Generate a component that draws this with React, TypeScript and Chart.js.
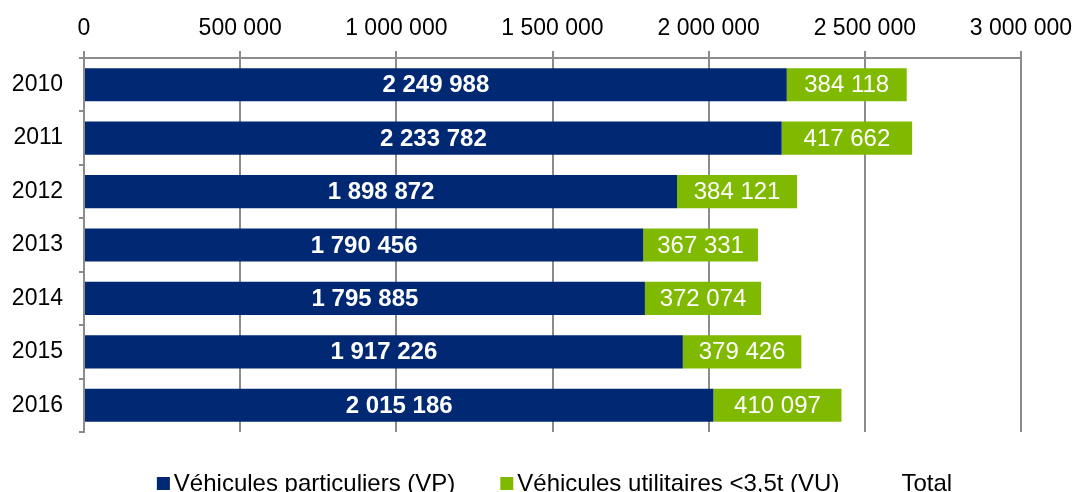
import React, { useEffect, useRef } from "react";
import { Chart, registerables } from "chart.js";

Chart.register(...registerables);

const years = ["2010", "2011", "2012", "2013", "2014", "2015", "2016"];
const vp = [2249988, 2233782, 1898872, 1790456, 1795885, 1917226, 2015186];
const vu = [384118, 417662, 384121, 367331, 372074, 379426, 410097];
const total: (number | null)[] = [];
const seriesLabels = ["Véhicules particuliers (VP)", "Véhicules utilitaires <3,5t (VU)", "Total"];
const seriesColors = ["#002873", "#80BA00", "rgba(0,0,0,0)"];
const xMin = 0;
const xMax = 3000000;
const xStep = 500000;

const FONT = '"Liberation Sans", Arial, sans-serif';

function fmt(v: number): string {
  return Math.round(v).toString().replace(/\B(?=(\d{3})+(?!\d))/g, " ");
}

const dataLabelPlugin = {
  id: "dataLabels",
  afterDatasetsDraw(chart: any) {
    const ctx = chart.ctx;
    ctx.save();
    ctx.fillStyle = "#ffffff";
    ctx.textAlign = "center";
    ctx.textBaseline = "middle";
    [0, 1].forEach((di) => {
      const meta = chart.getDatasetMeta(di);
      const ds = chart.data.datasets[di];
      ctx.font = (di === 0 ? "bold " : "") + "24px " + FONT;
      meta.data.forEach((el: any, i: number) => {
        const v = ds.data[i];
        if (v == null) return;
        const cx = (el.x + el.base) / 2;
        ctx.fillText(fmt(v), cx, el.y + 1);
      });
    });
    ctx.restore();
  },
};

const legendPlugin = {
  id: "customLegend",
  afterDraw(chart: any) {
    const ctx = chart.ctx;
    const ca = chart.chartArea;
    ctx.save();
    ctx.font = "24px " + FONT;
    const box = 13;
    const boxGap = 4;
    const itemGap = 45;
    const items = chart.data.datasets.map((ds: any) => ({
      label: ds.label,
      color: ds.backgroundColor,
      w: box + boxGap + ctx.measureText(ds.label).width,
    }));
    const totalW = items.reduce((s: number, it: any) => s + it.w, 0) + itemGap * (items.length - 1);
    let x = (ca.left + ca.right) / 2 - totalW / 2 + 2;
    const baseline = 491;
    items.forEach((it: any) => {
      ctx.fillStyle = it.color;
      ctx.fillRect(x, 477, box, box);
      ctx.fillStyle = "#000000";
      ctx.textAlign = "left";
      ctx.textBaseline = "alphabetic";
      ctx.fillText(it.label, x + box + boxGap, baseline);
      x += it.w + itemGap;
    });
    ctx.restore();
  },
};

export default function App() {
  const canvasRef = useRef<HTMLCanvasElement | null>(null);

  useEffect(() => {
    document.body.style.margin = "0";
    const canvas = canvasRef.current;
    if (!canvas) return;
    const chart = new Chart(canvas, {
      type: "bar",
      data: {
        labels: years,
        datasets: [
          { label: seriesLabels[0], data: vp, backgroundColor: seriesColors[0] },
          { label: seriesLabels[1], data: vu, backgroundColor: seriesColors[1] },
          { label: seriesLabels[2], data: total, backgroundColor: seriesColors[2] },
        ],
      },
      options: {
        indexAxis: "y",
        animation: false,
        responsive: false,
        maintainAspectRatio: false,
        layout: { padding: { left: 0, right: 57, top: 0, bottom: 60 } },
        datasets: { bar: { categoryPercentage: 1, barPercentage: 0.62 } },
        plugins: {
          legend: { display: false },
          tooltip: { enabled: false },
        },
        scales: {
          x: {
            position: "top",
            stacked: true,
            min: xMin,
            max: xMax,
            afterFit(scale: any) {
              scale.height = 58;
              scale.paddingLeft = 0;
              scale.paddingRight = 0;
            },
            ticks: {
              stepSize: xStep,
              color: "#000000",
              font: { family: FONT, size: 23 },
              padding: 9,
              callback: (v: any) => fmt(Number(v)),
            },
            grid: {
              color: "#8c8c8c",
              lineWidth: 2,
              tickLength: 7,
              drawTicks: true,
            },
            border: { color: "#8c8c8c", width: 2 },
          },
          y: {
            stacked: true,
            afterFit(scale: any) {
              scale.width = 84;
            },
            ticks: {
              color: "#000000",
              font: { family: FONT, size: 23 },
              padding: 16,
            },
            grid: {
              offset: true,
              drawOnChartArea: false,
              drawTicks: true,
              tickLength: 5,
              color: "#8c8c8c",
              lineWidth: 2,
            },
            border: { color: "#8c8c8c", width: 2 },
          },
        },
      },
      plugins: [dataLabelPlugin, legendPlugin],
    });
    return () => chart.destroy();
  }, []);

  return (
    <div style={{ width: 1078, height: 492 }}>
      <canvas ref={canvasRef} width={1078} height={492} style={{ display: "block" }} />
    </div>
  );
}
